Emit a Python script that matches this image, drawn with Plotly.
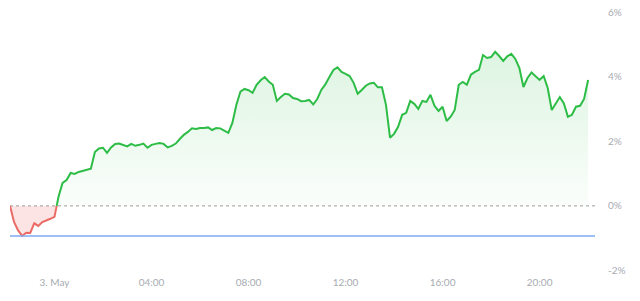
import numpy as np
import pandas as pd
import plotly.graph_objects as go

# ---- data (percent change vs. reference, 10-minute samples) ----
start_time = "2024-05-02 22:10"
sample_step = "10min"
pct_change = [
    0.00, -0.50, -0.76, -0.93, -0.83, -0.84, -0.54, -0.62, -0.50, -0.46,
    -0.40, -0.34, 0.28, 0.71, 0.80, 1.02, 0.99, 1.05, 1.08, 1.10,
    1.15, 1.67, 1.78, 1.80, 1.64, 1.81, 1.92, 1.93, 1.89, 1.84,
    1.92, 1.86, 1.89, 1.93, 1.80, 1.89, 1.92, 1.95, 1.92, 1.81,
    1.86, 1.93, 2.07, 2.20, 2.29, 2.40, 2.38, 2.41, 2.41, 2.43,
    2.35, 2.41, 2.40, 2.32, 2.26, 2.57, 3.13, 3.54, 3.62, 3.58,
    3.50, 3.75, 3.89, 3.99, 3.85, 3.75, 3.25, 3.37, 3.47, 3.45,
    3.34, 3.31, 3.24, 3.25, 3.28, 3.14, 3.31, 3.59, 3.76, 3.99,
    4.21, 4.29, 4.15, 4.09, 4.02, 3.81, 3.47, 3.59, 3.72, 3.79,
    3.81, 3.67, 3.67, 3.13, 2.11, 2.23, 2.45, 2.82, 2.88, 3.25,
    3.16, 3.00, 3.25, 3.22, 3.44, 3.10, 2.94, 3.07, 2.63, 2.76,
    2.97, 3.75, 3.84, 3.75, 4.06, 4.15, 4.21, 4.67, 4.58, 4.61,
    4.77, 4.64, 4.49, 4.63, 4.71, 4.55, 4.27, 3.68, 3.96, 4.13,
    4.02, 3.90, 4.02, 3.65, 2.97, 3.19, 3.37, 3.17, 2.76, 2.82,
    3.07, 3.10, 3.31, 3.90,
]
day_low = -0.93
axis_end = "2024-05-03 22:17"

x_tick_values = ["2024-05-03 00:00", "2024-05-03 04:00", "2024-05-03 08:00",
                 "2024-05-03 12:00", "2024-05-03 16:00", "2024-05-03 20:00"]
x_tick_labels = ["3. May", "04:00", "08:00", "12:00", "16:00", "20:00"]
y_tick_values = [-2, 0, 2, 4, 6]
y_tick_labels = ["-2%", "0%", "2%", "4%", "6%"]

GREEN = "#2dbd47"
RED = "#ea6b66"

times = pd.date_range(start_time, periods=len(pct_change), freq=sample_step)
tn = times.asi8.astype(float)
v = np.array(pct_change, dtype=float)

# sign per point (zeros take the sign of the following non-zero point)
signs = np.sign(v)
for i in range(len(signs) - 2, -1, -1):
    if signs[i] == 0:
        signs[i] = signs[i + 1]

segments = []
cur_x, cur_y, cur_s = [tn[0]], [v[0]], signs[0]
for i in range(1, len(v)):
    if signs[i] != cur_s:
        frac = v[i - 1] / (v[i - 1] - v[i])
        xc = tn[i - 1] + frac * (tn[i] - tn[i - 1])
        cur_x.append(xc); cur_y.append(0.0)
        segments.append((cur_x, cur_y, cur_s))
        cur_x, cur_y, cur_s = [xc], [0.0], signs[i]
    cur_x.append(tn[i]); cur_y.append(v[i])
segments.append((cur_x, cur_y, cur_s))

fig = go.Figure()
vmax = float(v.max())
for xs, ys, s in segments:
    xt = pd.to_datetime(np.array(xs).astype("int64"))
    if s >= 0:
        fig.add_trace(go.Scatter(
            x=xt, y=ys, mode="lines", line=dict(color=GREEN, width=2),
            fill="tozeroy",
            fillgradient=dict(type="vertical", start=0, stop=vmax,
                              colorscale=[[0, "rgba(45,189,71,0.02)"],
                                          [1, "rgba(45,189,71,0.16)"]]),
            hoverinfo="skip", showlegend=False))
    else:
        fig.add_trace(go.Scatter(
            x=xt, y=ys, mode="lines", line=dict(color=RED, width=2),
            fill="tozeroy", fillcolor="rgba(234,107,102,0.18)",
            hoverinfo="skip", showlegend=False))

fig.add_shape(type="line", xref="paper", x0=0, x1=1, yref="y", y0=0, y1=0,
              line=dict(color="#9c9c9c", width=1, dash="dot"), layer="below")
fig.add_shape(type="line", xref="paper", x0=0, x1=1, yref="y", y0=day_low, y1=day_low,
              line=dict(color="#7ea9f3", width=1.5), layer="above")

fig.update_layout(
    width=640, height=301,
    margin=dict(l=10, r=45, t=5, b=26),
    paper_bgcolor="white", plot_bgcolor="white",
    font=dict(family="Lato", size=10, color="#a7abb2"),
    xaxis=dict(range=[times[0], axis_end], tickvals=x_tick_values, ticktext=x_tick_labels,
               showgrid=False, zeroline=False, showline=False, ticks="", fixedrange=True),
    yaxis=dict(range=[-2.14, 6.22], side="right", tickvals=y_tick_values, ticktext=y_tick_labels,
               showgrid=False, zeroline=False, showline=False, ticks="",
               ticklabelstandoff=12, fixedrange=True),
)

fig.write_html("out.html")
